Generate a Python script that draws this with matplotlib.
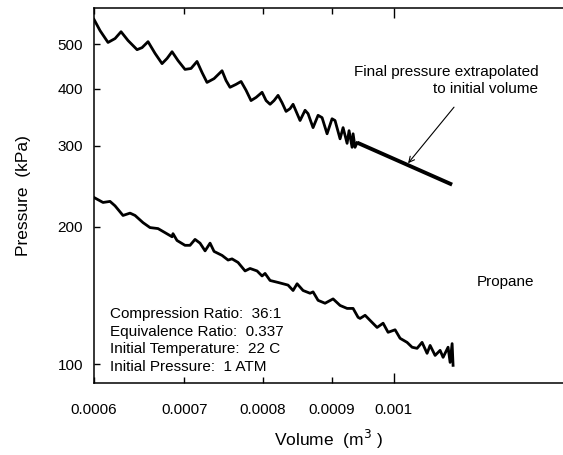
import matplotlib.pyplot as plt
from matplotlib.ticker import NullLocator

plt.rcParams['font.family'] = ['Liberation Sans', 'DejaVu Sans']

# upper curve (measured pressure, oscillating)
upper_vol = [0.0006, 0.0006062, 0.0006145, 0.0006219, 0.0006283, 0.0006358, 0.0006457,
             0.0006512, 0.0006579, 0.0006658, 0.0006738, 0.0006796, 0.0006854, 0.0006924,
             0.0007007, 0.0007079, 0.0007152, 0.0007214, 0.0007275, 0.0007363, 0.0007464,
             0.0007515, 0.0007566, 0.0007644, 0.000771, 0.0007776, 0.0007842, 0.000791,
             0.0007991, 0.0008046, 0.0008101, 0.0008156, 0.0008212, 0.0008268, 0.0008325,
             0.0008382, 0.0008425, 0.0008483, 0.0008526, 0.0008599, 0.0008643, 0.0008717,
             0.0008792, 0.0008852, 0.0008928, 0.0009004, 0.000905, 0.0009128, 0.0009175,
             0.0009238, 0.0009269, 0.0009317, 0.0009333, 0.0009364, 0.0009397]
upper_p = [567, 536, 505, 515, 533, 510, 487,
           492, 507, 478, 454, 466, 482, 461,
           441, 443, 459, 434, 413, 421, 438,
           417, 403, 409, 415, 397, 377, 383,
           393, 377, 370, 377, 387, 373, 357,
           362, 370, 353, 341, 359, 353, 329,
           350, 346, 319, 344, 341, 311, 329,
           304, 324, 298, 319, 298, 305]

# extrapolated final pressure
extrap_vol = [0.00094, 0.001105]
extrap_p = [305, 247]

# lower curve
lower_vol = [0.0006, 0.0006093, 0.0006166, 0.0006219, 0.0006304, 0.000638, 0.0006435,
             0.0006523, 0.0006601, 0.0006692, 0.0006772, 0.0006854, 0.0006865, 0.0006912,
             0.0007007, 0.0007067, 0.0007128, 0.0007189, 0.0007251, 0.0007313, 0.0007363,
             0.0007464, 0.0007541, 0.0007592, 0.000767, 0.0007763, 0.0007829, 0.0007923,
             0.0007991, 0.0008032, 0.0008101, 0.0008212, 0.0008282, 0.0008353, 0.0008425,
             0.0008483, 0.000857, 0.0008673, 0.0008717, 0.0008792, 0.0008897, 0.000902,
             0.0009128, 0.0009238, 0.0009333, 0.0009413, 0.0009445, 0.0009526, 0.000964,
             0.0009723, 0.0009823, 0.0009907, 0.0010026, 0.0010112, 0.0010233, 0.0010321,
             0.0010409, 0.0010498, 0.0010588, 0.0010643, 0.0010734, 0.0010826, 0.0010881,
             0.0010974, 0.0011012, 0.001105, 0.0011068]
lower_p = [231.5, 225.8, 227, 222, 211.5, 214, 211.5,
           204, 199, 198, 194, 190, 193, 186.5,
           182, 182, 187.5, 184, 177, 184, 176.5,
           173, 169, 170, 167, 160, 162, 160,
           156, 158, 152.5, 151, 150, 149, 145,
           150, 145, 143, 144, 138, 136, 139,
           134.5, 132.5, 132.5, 126.7, 126, 128, 123.5,
           120.4, 123, 117.5, 119, 114, 111.7, 109,
           108.4, 111.7, 105.7, 110, 104.6, 107.3, 103.6,
           109, 101, 111, 99.5]

x_minor_ticks = [0.0006, 0.0007, 0.0008, 0.0009]
x_minor_labels = ['0.0006', '0.0007', '0.0008', '0.0009']
x_major_ticks = [0.001]
x_major_labels = ['0.001']
y_ticks = [100, 200, 300, 400, 500]
y_labels = ['100', '200', '300', '400', '500']

info_text = ("Compression Ratio:  36:1\n"
             "Equivalence Ratio:  0.337\n"
             "Initial Temperature:  22 C\n"
             "Initial Pressure:  1 ATM")

fig = plt.figure(figsize=(5.63, 4.55), dpi=100)
ax = fig.add_axes([0.167, 0.158, 0.833, 0.824])

ax.plot(upper_vol, upper_p, color='black', lw=2)
ax.plot(extrap_vol, extrap_p, color='black', lw=2.8, solid_capstyle='butt')
ax.plot(lower_vol, lower_p, color='black', lw=2)

ax.set_xscale('log')
ax.set_yscale('log')
ax.set_xlim(0.0006, 0.001335)
ax.set_ylim(91, 600)

ax.set_xticks(x_major_ticks, x_major_labels)
ax.set_xticks(x_minor_ticks, x_minor_labels, minor=True)
ax.set_yticks(y_ticks, y_labels)
ax.yaxis.set_minor_locator(NullLocator())

ax.tick_params(axis='x', which='both', direction='in', top=True, pad=14, labelsize=11, width=1)
ax.tick_params(axis='x', which='major', length=7)
ax.tick_params(axis='x', which='minor', length=4)
ax.tick_params(axis='y', which='major', direction='in', length=4, pad=8, labelsize=11, width=1)

ax.spines['right'].set_visible(False)
for s in ['left', 'top', 'bottom']:
    ax.spines[s].set_linewidth(1.1)

ax.set_ylabel('Pressure  (kPa)', fontsize=12.5, labelpad=19)
ax.set_xlabel('Volume  (m$^3$ )', fontsize=12.5, labelpad=8)

ax.text(0.947, 0.808, "Final pressure extrapolated\nto initial volume", transform=ax.transAxes,
        ha='right', va='center', fontsize=11, linespacing=1.25)
ax.annotate('', xy=(0.001025, 275), xycoords='data',
            xytext=(0.7676, 0.736), textcoords='axes fraction',
            arrowprops=dict(arrowstyle='->', lw=0.8, color='black', shrinkA=0, shrinkB=0))
ax.text(0.8166, 0.2693, 'Propane', transform=ax.transAxes, ha='left', va='center', fontsize=11)
ax.text(0.034, 0.114, info_text, transform=ax.transAxes, ha='left', va='center',
        fontsize=11, linespacing=1.32)

plt.savefig('out.png', dpi=100)
plt.close()
